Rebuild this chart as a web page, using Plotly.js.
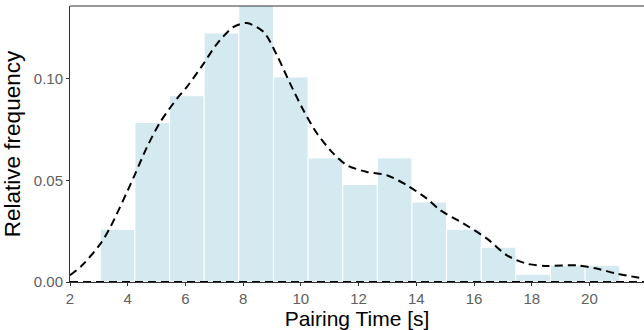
<!DOCTYPE html>
<html>
<head>
<meta charset="utf-8">
<script src="https://cdn.plot.ly/plotly-3.0.1.min.js"></script>
<style>html,body{margin:0;padding:0;background:#fff;}#chart{width:644px;height:330px;}</style>
</head>
<body>
<div id="chart"></div>
<script>
// Histogram (relative frequency / density), bin width 1.2
const binCenters = [3.65, 4.85, 6.05, 7.25, 8.45, 9.65, 10.85, 12.05, 13.25, 14.45, 15.65, 16.85, 18.05, 19.25, 20.45];
const binValues  = [0.0259, 0.0784, 0.0916, 0.1224, 0.1360, 0.1008, 0.0610, 0.0479, 0.0610, 0.0393, 0.0259, 0.0171, 0.0038, 0.0082, 0.0082];
const binWidth = 1.2;

// Kernel density estimate (dashed curve)
const densX = [2.00, 2.42, 3.06, 3.40, 4.21, 4.67, 5.13, 5.71, 6.05, 6.63, 7.10, 7.67, 8.13, 8.71, 9.17, 9.63, 10.09, 10.56, 11.13, 11.60, 12.29, 12.98, 13.68, 14.37, 14.83, 15.64, 16.45, 17.14, 17.83, 18.52, 19.56, 20.25, 20.95, 21.89];
const densY = [0.0033, 0.0082, 0.0189, 0.0270, 0.0516, 0.0664, 0.0787, 0.0902, 0.0959, 0.1074, 0.1172, 0.1254, 0.1273, 0.1229, 0.1115, 0.0975, 0.0844, 0.0730, 0.0631, 0.0574, 0.0541, 0.0525, 0.0475, 0.0410, 0.0353, 0.0287, 0.0213, 0.0131, 0.0090, 0.0079, 0.0082, 0.0066, 0.0041, 0.0017];

const yTicks = [0, 0.05, 0.10];
const yTickText = ['0.00', '0.05', '0.10'];
const xTicks = [2, 4, 6, 8, 10, 12, 14, 16, 18, 20];

const traces = [
  {
    type: 'bar', x: binCenters, y: binValues, width: binWidth,
    marker: {color: '#d4e9f0', line: {color: '#ffffff', width: 1}},
    hoverinfo: 'x+y', cliponaxis: true
  },
  {
    type: 'scatter', mode: 'lines',
    x: [densX[0], densX[densX.length - 1]], y: [0, 0],
    line: {color: '#000', width: 2, dash: '8px,5px'}, cliponaxis: false, hoverinfo: 'skip'
  },
  {
    type: 'scatter', mode: 'lines', x: densX, y: densY,
    line: {color: '#000', width: 2, dash: '8px,5px', shape: 'spline', smoothing: 0.8},
    cliponaxis: true
  }
];

const layout = {
  width: 644, height: 330,
  margin: {l: 69.5, r: 0, t: 5.7, b: 48.3},
  paper_bgcolor: '#fff', plot_bgcolor: '#fff',
  showlegend: false,
  bargap: 0,
  font: {family: 'Liberation Sans, Arial, sans-serif'},
  xaxis: {
    range: [2, 21.89], tickvals: xTicks, ticktext: xTicks.map(String),
    showgrid: false, zeroline: false,
    showline: true, linecolor: '#333', linewidth: 1,
    ticks: 'outside', ticklen: 3, tickcolor: '#333', tickwidth: 1,
    tickfont: {size: 15, color: '#606060'},
    title: {text: 'Pairing Time [s]', font: {size: 21, color: '#000'}, standoff: 4}
  },
  yaxis: {
    range: [0, 0.1357], tickvals: yTicks, ticktext: yTickText,
    showgrid: false, zeroline: false,
    showline: true, linecolor: '#333', linewidth: 1,
    ticks: 'outside', ticklen: 3, tickcolor: '#333', tickwidth: 1,
    tickfont: {size: 15, color: '#606060'},
    title: {text: 'Relative frequency', font: {size: 22.5, color: '#000'}, standoff: 8}
  },
  shapes: [
    {type: 'line', xref: 'paper', yref: 'paper', x0: 0, x1: 1, y0: 1, y1: 1, line: {color: '#333', width: 1}}
  ]
};

Plotly.newPlot('chart', traces, layout, {displayModeBar: false, staticPlot: true});
</script>
</body>
</html>
